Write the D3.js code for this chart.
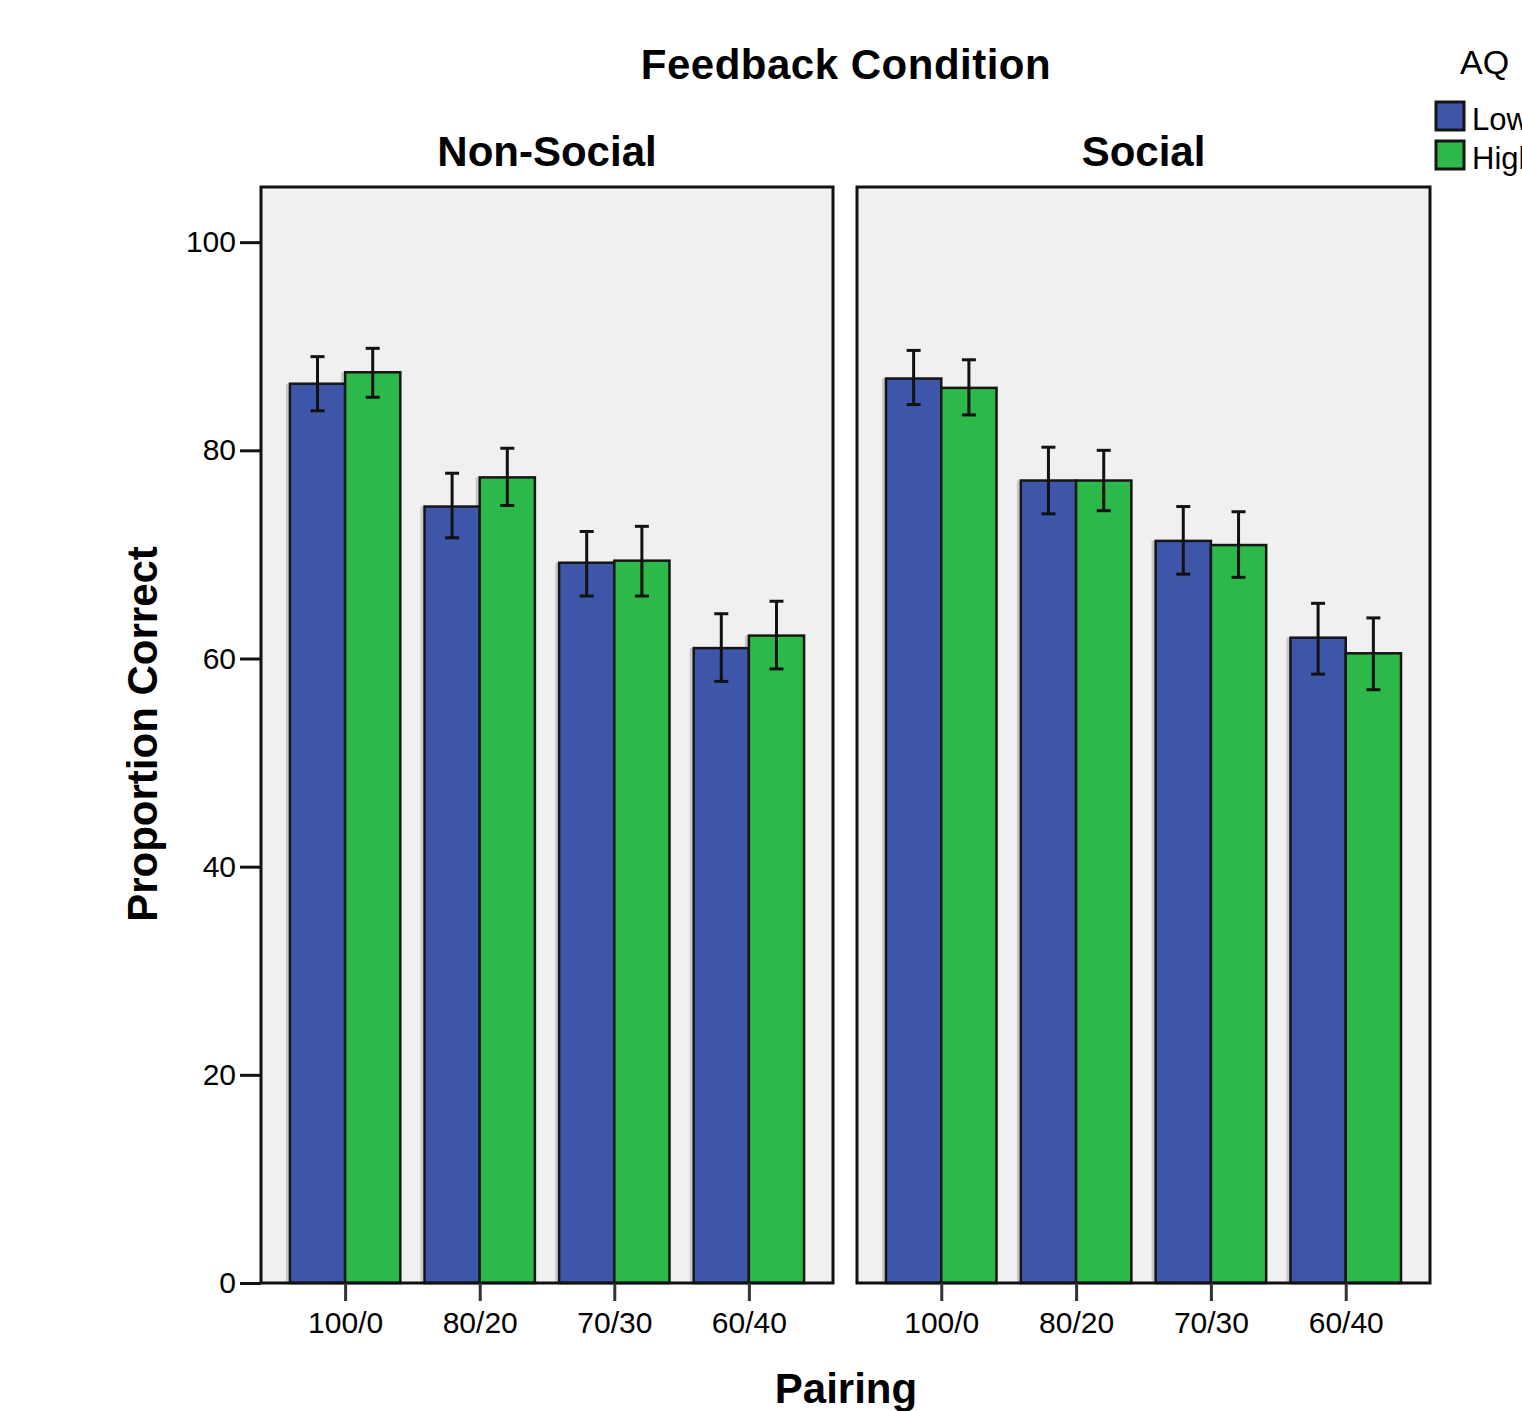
<!DOCTYPE html>
<html lang="en">
<head>
<meta charset="utf-8">
<title>Proportion Correct by Pairing</title>
<style type="text/css">
  body { margin: 0; background: #fff; }
  text { font-family: "Liberation Sans", Arial, sans-serif; fill: #000; }
</style>
</head>
<body>
<script src="https://cdn.jsdelivr.net/npm/d3@7"></script>
<script>

// data
var pairings = ["100/0", "80/20", "70/30", "60/40"];
var conditions = ["Non-Social", "Social"];
var aqGroups = ["Low", "High"];
var yTicks = [0, 20, 40, 60, 80, 100];

var nonSocialLow = [86.4, 74.6, 69.2, 61.0];
var nonSocialLowLo = [83.8, 71.6, 66.0, 57.8];
var nonSocialLowHi = [89.0, 77.8, 72.2, 64.3];
var nonSocialHigh = [87.5, 77.4, 69.4, 62.2];
var nonSocialHighLo = [85.1, 74.7, 66.0, 59.0];
var nonSocialHighHi = [89.8, 80.2, 72.7, 65.5];

var socialLow = [86.9, 77.1, 71.3, 62.0];
var socialLowLo = [84.4, 73.9, 68.1, 58.5];
var socialLowHi = [89.6, 80.3, 74.6, 65.3];
var socialHigh = [86.0, 77.1, 70.9, 60.5];
var socialHighLo = [83.4, 74.2, 67.8, 57.0];
var socialHighHi = [88.7, 80.0, 74.1, 63.9];

var w = 1522, h = 1411;
var colors = {Low: "#3e56a9", High: "#2db84a"};

var svg = d3.select("body").append("svg")
    .attr("width", w)
    .attr("height", h);

var plotTop = 187, plotBottom = 1283;
var y = d3.scaleLinear().domain([0, 105.3]).range([plotBottom, plotTop]);

var panels = [
    {name: conditions[0], x0: 261, x1: 833,
     series: [
        {g: "Low", v: nonSocialLow, lo: nonSocialLowLo, hi: nonSocialLowHi},
        {g: "High", v: nonSocialHigh, lo: nonSocialHighLo, hi: nonSocialHighHi}]},
    {name: conditions[1], x0: 857, x1: 1430,
     series: [
        {g: "Low", v: socialLow, lo: socialLowLo, hi: socialLowHi},
        {g: "High", v: socialHigh, lo: socialHighLo, hi: socialHighHi}]}
];

panels.forEach(function(p) {
    var x = d3.scalePoint().domain(pairings).range([p.x0, p.x1]).padding(0.625);
    var barW = x.step() * 0.41;
    var sub = d3.scaleBand().domain(aqGroups).range([-barW, barW]);

    var g = svg.append("g");

    // panel background
    g.append("rect")
        .attr("x", p.x0).attr("y", plotTop)
        .attr("width", p.x1 - p.x0).attr("height", plotBottom - plotTop)
        .attr("fill", "#f0f0f0");

    // soft shadows first, so bars sit on top
    p.series.forEach(function(s) {
        g.append("g").selectAll("rect")
            .data(s.v)
            .enter()
            .append("rect")
            .attr("x", function(d, i) { return x(pairings[i]) + sub(s.g) - 4; })
            .attr("y", function(d) { return y(d); })
            .attr("width", 3)
            .attr("height", function(d) { return plotBottom - y(d); })
            .attr("fill", "#c8c8c8");
    });

    // bars
    p.series.forEach(function(s) {
        g.append("g").selectAll("rect")
            .data(s.v)
            .enter()
            .append("rect")
            .attr("x", function(d, i) { return x(pairings[i]) + sub(s.g); })
            .attr("y", function(d) { return y(d); })
            .attr("width", sub.bandwidth())
            .attr("height", function(d) { return plotBottom - y(d); })
            .attr("fill", colors[s.g])
            .attr("stroke", "#151515")
            .attr("stroke-width", 2.5);
    });

    // error bars
    p.series.forEach(function(s) {
        var eg = g.append("g").attr("stroke", "#111").attr("stroke-width", 3);
        s.v.forEach(function(d, i) {
            var cx = x(pairings[i]) + sub(s.g) + sub.bandwidth() / 2;
            eg.append("line")
                .attr("x1", cx).attr("x2", cx)
                .attr("y1", y(s.lo[i])).attr("y2", y(s.hi[i]));
            [s.lo[i], s.hi[i]].forEach(function(e) {
                eg.append("line")
                    .attr("x1", cx - 7).attr("x2", cx + 7)
                    .attr("y1", y(e)).attr("y2", y(e));
            });
        });
    });

    // panel frame
    g.append("rect")
        .attr("x", p.x0).attr("y", plotTop)
        .attr("width", p.x1 - p.x0).attr("height", plotBottom - plotTop)
        .attr("fill", "none")
        .attr("stroke", "#111")
        .attr("stroke-width", 3);

    // x axis
    var xa = svg.append("g")
        .attr("transform", "translate(0," + plotBottom + ")")
        .call(d3.axisBottom(x).tickSize(18).tickPadding(11));
    xa.select(".domain").remove();
    xa.selectAll("line").attr("stroke", "#333").attr("stroke-width", 3);
    xa.selectAll("text")
        .style("font-family", "'Liberation Sans', Arial, sans-serif")
        .style("font-size", "30px")
        .attr("fill", "#000");

    // panel title
    svg.append("text")
        .attr("x", (p.x0 + p.x1) / 2)
        .attr("y", 166)
        .attr("text-anchor", "middle")
        .style("font-size", "42px")
        .style("font-weight", "bold")
        .text(p.name);
});

// y axis
var ya = svg.append("g")
    .attr("transform", "translate(261,0)")
    .call(d3.axisLeft(y).tickValues(yTicks).tickSize(21).tickPadding(4));
ya.select(".domain").remove();
ya.selectAll("line").attr("stroke", "#111").attr("stroke-width", 3);
ya.selectAll("text")
    .style("font-family", "'Liberation Sans', Arial, sans-serif")
    .style("font-size", "30px")
    .attr("fill", "#000");

// titles
svg.append("text")
    .attr("x", 846).attr("y", 79)
    .attr("text-anchor", "middle")
    .style("font-size", "42px")
    .style("font-weight", "bold")
    .style("letter-spacing", "0.5px")
    .text("Feedback Condition");

svg.append("text")
    .attr("transform", "translate(157,734) rotate(-90)")
    .attr("text-anchor", "middle")
    .style("font-size", "42px")
    .style("font-weight", "bold")
    .text("Proportion Correct");

svg.append("text")
    .attr("x", 846).attr("y", 1403)
    .attr("text-anchor", "middle")
    .style("font-size", "42px")
    .style("font-weight", "bold")
    .text("Pairing");

// legend
svg.append("text")
    .attr("x", 1460).attr("y", 74)
    .style("font-size", "34px")
    .text("AQ");

var leg = svg.selectAll("g.leg")
    .data(aqGroups)
    .enter()
    .append("g")
    .attr("class", "leg")
    .attr("transform", function(d, i) { return "translate(1436," + (102 + i * 39) + ")"; });
leg.append("rect")
    .attr("width", 28).attr("height", 28)
    .attr("fill", function(d) { return colors[d]; })
    .attr("stroke", "#151515")
    .attr("stroke-width", 3);
leg.append("text")
    .attr("x", 36).attr("y", 28)
    .style("font-size", "31px")
    .text(function(d) { return d; });

</script>
</body>
</html>
